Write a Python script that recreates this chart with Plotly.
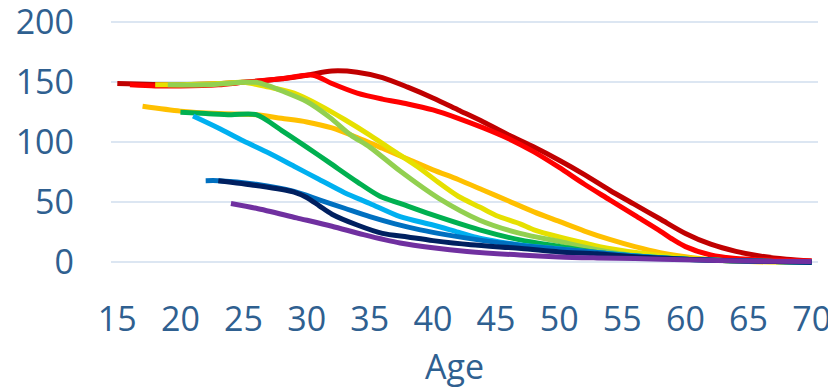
import plotly.graph_objects as go

# ---- data ----
x_darkred = [15, 20, 25, 28, 30, 32, 34, 36, 38, 40, 42, 44, 46, 48, 50, 52, 54, 56, 58, 60, 62, 64, 66, 68, 70]
y_darkred = [149, 148, 150, 153, 156, 159.5, 158.5, 154, 146, 137, 127, 117, 106, 96, 85, 73, 60, 48, 36, 24, 15, 9, 5, 2.5, 1]

x_red = [16, 18, 20, 23, 25, 28, 30.5, 32, 34, 36, 38, 40, 42, 44, 46, 48, 50, 52, 54, 56, 58, 59, 60, 62, 64, 66, 70]
y_red = [148, 147, 147, 148, 150, 153, 156, 149, 141, 136, 132, 127, 120, 112, 103, 92, 79, 65, 52, 39, 26, 19, 13, 6, 3, 2, 1]

x_orange = [17, 20, 23, 26, 28, 30, 32, 34, 36, 38, 40, 42, 44, 46, 48, 50, 52, 54, 56, 58, 60, 62, 65, 70]
y_orange = [130, 126, 124, 123, 120, 117, 112, 104, 95, 86, 77, 69, 60, 51, 42, 34, 26, 19, 13, 8, 4.5, 2, 0.5, 0]

x_yellow = [18, 20, 23, 25, 27, 29, 31, 33, 35, 37, 39, 40.5, 42, 43.7, 45, 46.9, 48, 50, 52, 53.2, 56.4, 60, 63, 66, 70]
y_yellow = [148, 148, 149, 150, 146, 141, 131, 119, 106, 92, 78, 66, 55, 46, 39, 32, 27, 21, 16, 13, 7.7, 3.5, 1.5, 0.5, 0]

x_lgreen = [19, 22, 25, 26, 27, 28, 30, 31.8, 33.5, 35, 37.4, 40.5, 43.7, 46.9, 50.1, 53.2, 56.4, 60, 65, 70]
y_lgreen = [148, 148, 150, 150, 147, 143, 134, 121, 106, 96, 76, 53, 35, 24, 17, 10, 5, 2.5, 1, 0]

x_green = [20, 22, 24, 26, 28, 30, 31.8, 34, 35.8, 37.4, 39.8, 43.7, 46.9, 50.1, 53.2, 56.4, 60, 65, 70]
y_green = [125, 124, 123, 123, 110, 96, 83, 67, 55, 49, 40, 27, 18.6, 13, 7.8, 5, 2.5, 1, 0]

x_lblue = [21, 23, 25, 27, 29, 31, 33, 35, 37.4, 40, 42, 43.7, 46.9, 50.1, 53.2, 56.4, 60, 65, 70]
y_lblue = [122, 112, 101, 91, 80, 69, 58, 49, 38, 31, 25, 20, 14.4, 11, 7.8, 5, 2.5, 1, 0]

x_blue = [22, 23, 26, 29, 31, 33, 35, 37, 39, 41, 44, 47, 50, 53, 56, 60, 65, 70]
y_blue = [68, 68, 65, 59, 52, 45, 38, 32, 27, 23, 18, 14, 11, 8, 5, 2.5, 1, 0]

x_navy = [23, 26, 29, 30, 31, 32, 34, 36, 38, 40, 43, 47, 50, 53, 56, 60, 65, 70]
y_navy = [68, 64, 58.5, 54, 47, 40, 31, 24, 21, 18, 14.5, 11.5, 8.6, 7, 4.5, 2.5, 1, 0]

x_purple = [24, 26, 29.2, 32, 34.5, 37.4, 40, 42.7, 46.9, 50, 53, 56, 60, 65, 70]
y_purple = [49, 45, 37, 30, 23, 16, 12, 9, 6, 4.4, 3.6, 3, 2, 1, 0.5]

x_ticks = [15, 20, 25, 30, 35, 40, 45, 50, 55, 60, 65, 70]
y_ticks = [0, 50, 100, 150, 200]

series = [
    (x_darkred, y_darkred, "#C00000"),
    (x_red, y_red, "#FF0000"),
    (x_orange, y_orange, "#FFC000"),
    (x_yellow, y_yellow, "#E6E000"),
    (x_lgreen, y_lgreen, "#92D050"),
    (x_green, y_green, "#00B050"),
    (x_lblue, y_lblue, "#00B0F0"),
    (x_blue, y_blue, "#0070C0"),
    (x_navy, y_navy, "#002060"),
    (x_purple, y_purple, "#7030A0"),
]

TXT = "#2F6090"
FONT = "Open Sans"

fig = go.Figure()
for xs, ys, col in series:
    fig.add_trace(go.Scatter(x=xs, y=ys, mode="lines",
                             line=dict(color=col, width=5, shape="spline", smoothing=0.8),
                             showlegend=False, hoverinfo="skip", cliponaxis=False))

# page body has an 8px default margin, so the figure is 8px smaller than the window
fig.update_layout(
    width=828, height=380,
    margin=dict(l=103, r=18, t=12, b=121, autoexpand=False),
    paper_bgcolor="white", plot_bgcolor="white",
    font=dict(family=FONT, color=TXT, size=34),
)
fig.update_xaxes(range=[14.5, 70.5], tickvals=x_ticks, ticktext=[str(v) for v in x_ticks],
                 showgrid=False, zeroline=False, showline=False, ticks="", automargin=False,
                 ticklabeloverflow="allow",
                 tickfont=dict(family=FONT, size=34, color=TXT), ticklabelstandoff=29)
fig.update_yaxes(range=[-4, 202], tickvals=y_ticks, ticktext=[str(v) for v in y_ticks],
                 showgrid=True, gridcolor="#DCE6F2", gridwidth=2, zeroline=False,
                 showline=False, ticks="", automargin=False,
                 ticklabeloverflow="allow",
                 tickfont=dict(family=FONT, size=34, color=TXT), ticklabelstandoff=36)

fig.add_annotation(text="Age", xref="paper", yref="paper", x=(454 - 111) / 707, y=-0.30,
                   xanchor="center", yanchor="top", showarrow=False,
                   font=dict(family=FONT, size=34, color=TXT))

fig.write_html("out.html")
